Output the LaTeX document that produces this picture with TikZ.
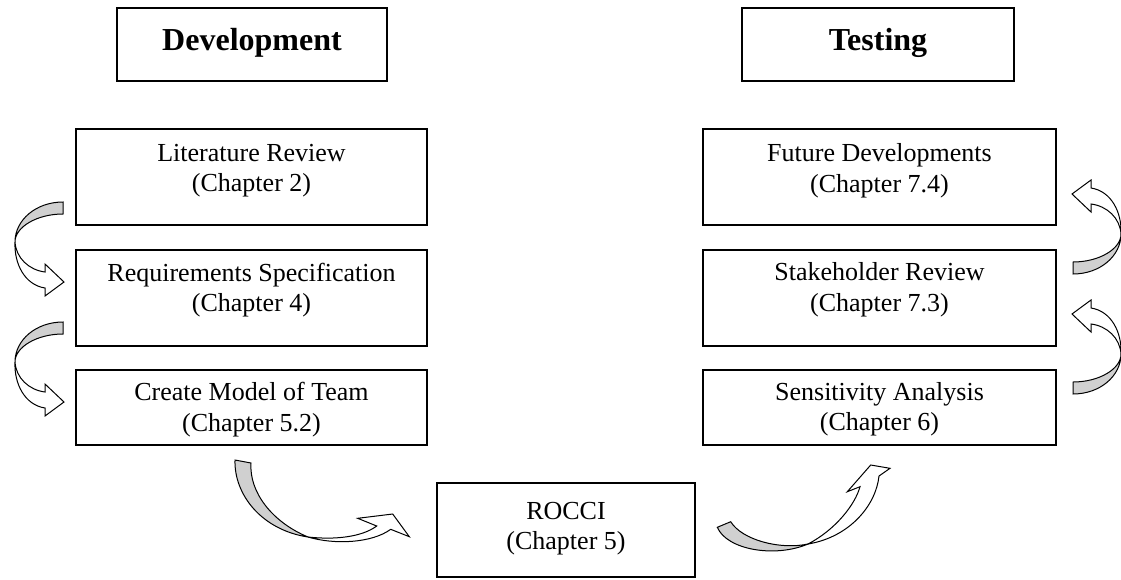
\documentclass[tikz,border=0pt]{standalone}
\usepackage{fontspec}
\setmainfont{Liberation Serif}
\definecolor{arrowgray}{RGB}{208,208,208}
\tikzset{
  box/.style={draw=black, line width=1.8pt, rectangle, inner sep=0pt},
  txt/.style={inner sep=0pt, align=center, anchor=north, font=\fontsize{26}{30.5}\selectfont},
  head/.style={inner sep=0pt, anchor=base, font=\fontsize{32}{37}\selectfont\bfseries},
  arrw/.style={draw=black, fill=white, line width=1pt, line join=miter},
  arrg/.style={draw=black, fill=arrowgray, line width=1pt, line join=miter},
  lcurv/.pic={
    \path[arrw] (-48,0) .. controls (-47,16) and (-34,28) .. (-18,30) -- (-18,22) -- (1,40)
       -- (-18,54) -- (-18,46) .. controls (-38,43) and (-49,22) .. (-48,0) -- cycle;
    \path[arrg] (0,-40) .. controls (-27,-40) and (-48,-22) .. (-48,0)
       .. controls (-48,-15) and (-26,-28) .. (0,-28) -- cycle;
  }
}
\begin{document}
\begin{tikzpicture}[x=1pt, y=-1pt]
\useasboundingbox (0,0) rectangle (1121,579);

% header boxes
\node[box, minimum width=270pt, minimum height=73pt] (dev) at (252,44.5) {};
\node[head] (devT) at (252,50.5) {Development};
\node[box, minimum width=272pt, minimum height=73pt] (test) at (878,44.5) {};
\node[head] (testT) at (878,50.5) {Testing};

% left column
\node[box, minimum width=351pt, minimum height=96pt] (lit) at (251.5,177) {};
\node[txt] (litT) at (251.5,143.7) {Literature Review\\(Chapter 2)};
\node[box, minimum width=351pt, minimum height=96pt] (req) at (251.5,298) {};
\node[txt] (reqT) at (251.5,262.7) {Requirements Specification\\(Chapter 4)};
\node[box, minimum width=351pt, minimum height=75pt] (cre) at (251.5,407.5) {};
\node[txt] (creT) at (251.5,382) {Create Model of Team\\(Chapter 5.2)};

% bottom
\node[box, minimum width=258pt, minimum height=94pt] (rocci) at (566,530) {};
\node[txt] (rocciT) at (566,501.7) {ROCCI\\(Chapter 5)};

% right column
\node[box, minimum width=353pt, minimum height=96pt] (fut) at (879.5,177) {};
\node[txt] (futT) at (879.5,143.7) {Future Developments\\(Chapter 7.4)};
\node[box, minimum width=353pt, minimum height=96pt] (stk) at (879.5,298) {};
\node[txt] (stkT) at (879.5,262.7) {Stakeholder Review\\(Chapter 7.3)};
\node[box, minimum width=353pt, minimum height=75pt] (sen) at (879.5,407.5) {};
\node[txt] (senT) at (879.5,382) {Sensitivity Analysis\\(Chapter 6)};

% curved arrows, left and right columns
\pic at (63,242) {lcurv};
\pic at (63,362) {lcurv};
\pic[rotate=180] at (1073,354) {lcurv};
\pic[rotate=180] at (1073,234) {lcurv};

% curved arrow: Create Model -> ROCCI
\path[arrw] (308,537) .. controls (335,540) and (362,537) .. (376.7,526) -- (357.7,518.3)
   -- (392.7,514) -- (409.3,536.7) -- (390.7,529.3)
   .. controls (372,543) and (335,545) .. (308,537) -- cycle;
\path[arrg] (235,460) .. controls (234,495) and (262,530) .. (308,537)
   .. controls (272,522) and (249,492) .. (251,463) -- cycle;

% curved arrow: ROCCI -> Sensitivity Analysis
\path[arrw] (808,544) .. controls (835,530) and (855,505) .. (860,486.7) -- (847.3,491.7)
   -- (870.7,465) -- (890,468.3) -- (879,476)
   .. controls (876,505) and (850,537) .. (808,544) -- cycle;
\path[arrg] (717.3,527.3) .. controls (727,550) and (775,558) .. (808,544)
   .. controls (780,550) and (742,540) .. (730.7,521.7) -- cycle;
\end{tikzpicture}
\end{document}
